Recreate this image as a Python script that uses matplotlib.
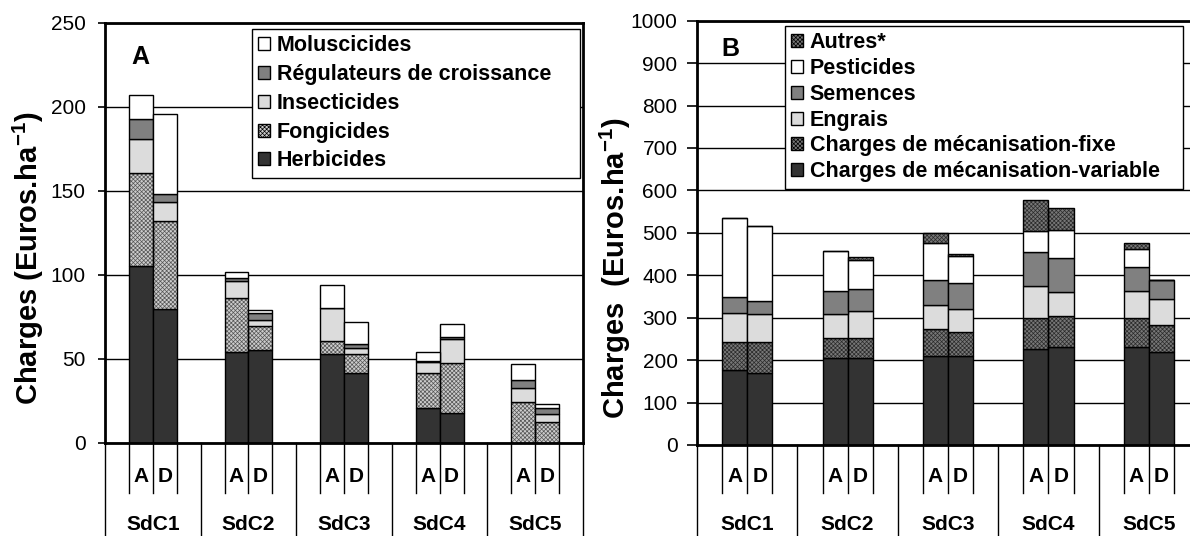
import numpy as np
import matplotlib
matplotlib.use('Agg')
import matplotlib.pyplot as plt
from matplotlib.patches import Patch
from matplotlib.transforms import blended_transform_factory

plt.rcParams['font.family'] = ['Liberation Sans', 'DejaVu Sans']
plt.rcParams['mathtext.fontset'] = 'custom'
plt.rcParams['mathtext.rm'] = 'Liberation Sans:bold'
plt.rcParams['mathtext.bf'] = 'Liberation Sans:bold'
plt.rcParams['hatch.linewidth'] = 0.5

groups = ['SdC1', 'SdC2', 'SdC3', 'SdC4', 'SdC5']
subs = ['A', 'D']

# panel A - values ordered SdC1 A, SdC1 D, SdC2 A, ...
herbicides = [105, 79.5, 54, 55, 53, 41.3, 20.4, 17.8, 0, 0]
fongicides = [55.5, 52.5, 32, 14.3, 7.3, 11.3, 20.9, 29.8, 24.3, 12]
insecticides = [20.5, 11.3, 10.5, 3.6, 19.9, 4, 6.5, 14, 8.4, 5]
regulateurs = [11.5, 4.6, 1.5, 4.4, 0, 2.3, 0.8, 1.5, 4.6, 3.4]
moluscicides = [14.3, 48, 3.5, 1.5, 13.4, 12.7, 5.6, 7.6, 9.5, 2.6]

# panel B
meca_var = [177, 170.6, 204.5, 204.5, 210.7, 210.7, 225.8, 231.9, 231.9, 218.7]
meca_fixe = [65, 71.6, 48.7, 48.7, 62.9, 55.9, 73.1, 73.1, 67, 63.7]
engrais = [69, 67, 55, 62.8, 56.7, 53.4, 76.2, 55.9, 65.1, 61.3]
semences = [37, 30.7, 55.7, 52, 58.9, 62.9, 80.9, 79.5, 55.2, 45.5]
pesticides = [187, 177, 94.4, 68.4, 86.6, 63.7, 47.3, 66.8, 42.4, 0]
autres = [0, 0, 0, 7.8, 23.6, 4, 73.1, 51.2, 14.2, 0]

W, H = 1190, 536
fig = plt.figure(figsize=(W / 100, H / 100), dpi=100)

def px_box(l, t, r, b):
    return [l / W, 1 - b / H, (r - l) / W, (b - t) / H]

axA = fig.add_axes(px_box(105, 23, 583, 442.5))
axB = fig.add_axes(px_box(697, 20.7, 1199, 445))

x = np.array([4 * g + 1.5 + k for g in range(len(groups)) for k in range(2)])

dark = ('#333333', None, None)
hatch_light = ('#cccccc', 'xxxxxxxx', '#555555')
hatch_dark = ('#777777', 'xxxxxxxx', '#2a2a2a')
light = ('#dcdcdc', None, None)
mid = ('#808080', None, None)
white = ('white', None, None)

def stack(ax, layers, styles):
    bottom = np.zeros(len(x))
    for vals, (fc, hatch, hc) in zip(layers, styles):
        vals = np.array(vals, dtype=float)
        if hatch:
            ax.bar(x, vals, 1, bottom, color=fc, edgecolor=hc, hatch=hatch, linewidth=0)
            ax.bar(x, vals, 1, bottom, fill=False, edgecolor='black', linewidth=1)
        else:
            ax.bar(x, vals, 1, bottom, color=fc, edgecolor='black', linewidth=1)
        bottom += vals

def legend_handles(labels, styles):
    hs = []
    for lab, (fc, hatch, hc) in zip(labels, styles):
        hs.append(Patch(facecolor=fc, edgecolor='black', hatch=hatch, linewidth=1, label=lab))
    return hs

stylesA = [dark, hatch_light, light, mid, white]
stack(axA, [herbicides, fongicides, insecticides, regulateurs, moluscicides], stylesA)
labelsA = ['Herbicides', 'Fongicides', 'Insecticides', 'Régulateurs de croissance', 'Moluscicides']

stylesB = [dark, hatch_dark, light, mid, white, hatch_dark]
stack(axB, [meca_var, meca_fixe, engrais, semences, pesticides, autres], stylesB)
labelsB = ['Charges de mécanisation-variable', 'Charges de mécanisation-fixe', 'Engrais',
           'Semences', 'Pesticides', 'Autres*']

for ax, ymax, step, zero_px, tl, pad in [(axA, 250, 50, 442.5, 5, 9), (axB, 1000, 100, 445, 7, 7)]:
    ax.set_xlim(0, 20)
    ax.set_ylim(0, ymax)
    ax.set_yticks(np.arange(0, ymax + 1, step))
    ax.set_xticks([])
    ax.yaxis.grid(True, color='black', linewidth=1)
    ax.set_axisbelow(True)
    ax.tick_params(axis='y', direction='out', length=tl, width=1.2, labelsize=15, pad=pad)
    for s in ax.spines.values():
        s.set_linewidth(2)
    # two-level category axis
    tr = blended_transform_factory(ax.transData, fig.transFigure)
    y0 = 1 - zero_px / H
    for g in range(len(groups)):
        for k in (1, 2, 3):
            ax.plot([4 * g + k] * 2, [y0, 1 - 493 / H], color='black', lw=1, transform=tr, clip_on=False)
        for k, s in enumerate(subs):
            ax.text(4 * g + 1.5 + k, 1 - 477 / H, s, transform=tr, ha='center', va='center',
                    fontsize=15, fontweight='bold')
        ax.text(4 * g + 2, 1 - 525 / H, groups[g], transform=tr, ha='center', va='center',
                fontsize=15, fontweight='bold')
    for g in range(len(groups) + 1):
        ax.plot([4 * g] * 2, [y0, 0], color='black', lw=1, transform=tr, clip_on=False)

legA = axA.legend(handles=legend_handles(labelsA, stylesA)[::-1], loc='upper left',
                  bbox_to_anchor=(252 / W, 1 - 176 / H, 328 / W, 147 / H), mode='expand',
                  bbox_transform=fig.transFigure,
                  prop={'weight': 'bold', 'size': 15.5}, frameon=True, fancybox=False,
                  edgecolor='black', framealpha=1, handlelength=0.55, handleheight=0.55,
                  handletextpad=0.3, labelspacing=0.36, borderpad=0.3, borderaxespad=0)
legB = axB.legend(handles=legend_handles(labelsB, stylesB)[::-1], loc='upper left',
                  bbox_to_anchor=(785 / W, 1 - 186 / H, 398 / W, 160 / H), mode='expand',
                  bbox_transform=fig.transFigure,
                  prop={'weight': 'bold', 'size': 15.5}, frameon=True, fancybox=False,
                  edgecolor='black', framealpha=1, handlelength=0.55, handleheight=0.55,
                  handletextpad=0.3, labelspacing=0.22, borderpad=0.3, borderaxespad=0)
for leg in (legA, legB):
    leg.get_frame().set_linewidth(1)

fig.text(140 / W, 1 - 57 / H, 'A', fontsize=18, fontweight='bold', ha='center', va='center')
fig.text(730 / W, 1 - 49 / H, 'B', fontsize=18, fontweight='bold', ha='center', va='center')

fig.text(28 / W, 1 - 258 / H, 'Charges (Euros.ha$^{\\mathbf{-1}}$)', rotation=90,
         fontsize=21, fontweight='bold', ha='center', va='center')
fig.text(615 / W, 1 - 268 / H, 'Charges  (Euros.ha$^{\\mathbf{-1}}$)', rotation=90,
         fontsize=21, fontweight='bold', ha='center', va='center')

fig.savefig('out.png', dpi=100)
